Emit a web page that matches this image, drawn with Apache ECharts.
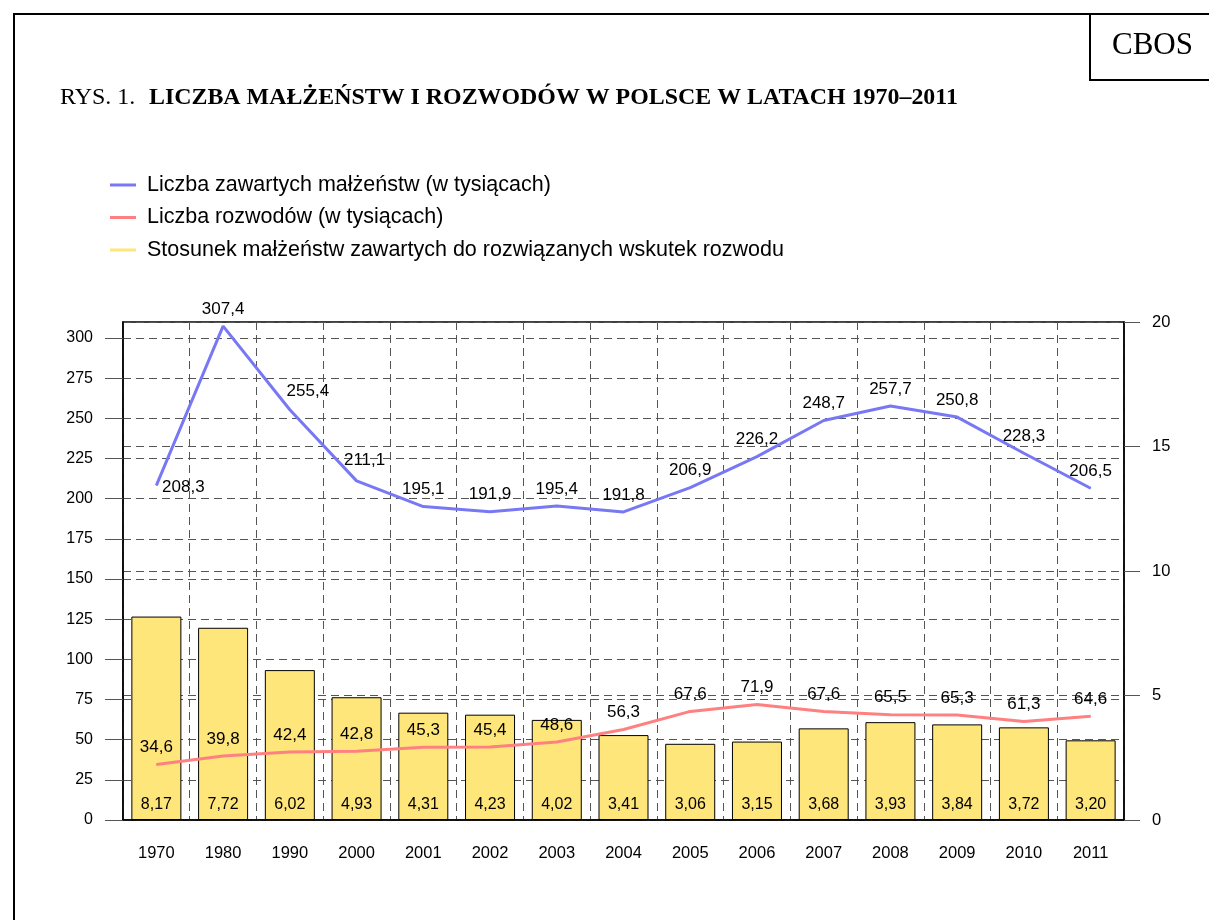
<!DOCTYPE html>
<html>
<head>
<meta charset="utf-8">
<script src="https://cdn.jsdelivr.net/npm/echarts@6/dist/echarts.min.js"></script>
<style>html,body{margin:0;padding:0;background:#fff}#c{width:1209px;height:920px}</style>
</head>
<body>
<div id="c"></div>
<script>
const years = ['1970','1980','1990','2000','2001','2002','2003','2004','2005','2006','2007','2008','2009','2010','2011'];
const marriages = [208.3, 307.4, 255.4, 211.1, 195.1, 191.9, 195.4, 191.8, 206.9, 226.2, 248.7, 257.7, 250.8, 228.3, 206.5];
const divorces = [34.6, 39.8, 42.4, 42.8, 45.3, 45.4, 48.6, 56.3, 67.6, 71.9, 67.6, 65.5, 65.3, 61.3, 64.6];
const ratio = [8.17, 7.72, 6.02, 4.93, 4.31, 4.23, 4.02, 3.41, 3.06, 3.15, 3.68, 3.93, 3.84, 3.72, 3.20];
const seriesNames = [
  'Liczba zawartych małżeństw (w tysiącach)',
  'Liczba rozwodów (w tysiącach)',
  'Stosunek małżeństw zawartych do rozwiązanych wskutek rozwodu'
];
const titlePrefix = 'RYS. 1.';
const titleMain = 'LICZBA MAŁŻEŃSTW I ROZWODÓW W POLSCE W LATACH 1970–2011';
const cornerText = 'CBOS';

// label nudges (pixels) for the marriages line (style only)
const marriageLabelNudge = {
  0: [27, 19],
  2: [18, -1],
  3: [8, -4]
};

const fmt1 = v => v.toFixed(1).replace('.', ',');
const fmt2 = v => v.toFixed(2).replace('.', ',');

const chart = echarts.init(document.getElementById('c'));
const gridDash = {show: true, lineStyle: {color: '#555', type: [8, 5], width: 1}};
const font = 'Liberation Sans, Arial, sans-serif';
const serif = 'Liberation Serif, Times New Roman, serif';

chart.setOption({
  animation: false,
  backgroundColor: '#fff',
  textStyle: {fontFamily: font},
  legend: {
    orient: 'vertical', left: 105, top: 169,
    itemWidth: 26, itemHeight: 3, itemGap: 10.5, icon: 'rect',
    textStyle: {fontSize: 21.5, color: '#000', fontFamily: font, padding: [0, 0, 0, 6]},
    data: [
      {name: seriesNames[0]},
      {name: seriesNames[1]},
      {name: seriesNames[2], itemStyle: {borderWidth: 0}}
    ]
  },
  grid: {left: 123, right: 85, top: 322, bottom: 100, show: true, borderColor: '#000', borderWidth: 1.5, backgroundColor: 'transparent'},
  xAxis: {
    type: 'category', data: years,
    axisLine: {lineStyle: {color: '#000', width: 1.5}},
    axisTick: {alignWithLabel: true, length: 12, lineStyle: {color: '#000'}},
    axisLabel: {color: '#000', fontSize: 16.5, margin: 25, interval: 0},
    splitLine: Object.assign({interval: 0}, gridDash)
  },
  yAxis: [
    {
      type: 'value', min: 0, max: 310, interval: 25, position: 'left',
      axisLine: {show: true, lineStyle: {color: '#000', width: 1.5}},
      axisTick: {show: true, length: 18, lineStyle: {color: '#555'}},
      axisLabel: {color: '#000', fontSize: 16, margin: 30, showMaxLabel: false,
        formatter: v => (v % 25 === 0 ? String(v) : '')},
      splitLine: gridDash
    },
    {
      type: 'value', min: 0, max: 20, interval: 5, position: 'right',
      axisLine: {show: true, lineStyle: {color: '#000', width: 1.5}},
      axisTick: {show: true, length: 16, lineStyle: {color: '#555'}},
      axisLabel: {color: '#000', fontSize: 16.5, margin: 28},
      splitLine: gridDash
    }
  ],
  series: [
    {
      name: seriesNames[2], type: 'bar', yAxisIndex: 1, z: 2,
      data: ratio, barWidth: 50,
      itemStyle: {color: '#FFE67A', borderColor: '#000', borderWidth: 1},
      label: {show: true, position: 'insideBottom', distance: 7, color: '#000', fontSize: 16,
        formatter: p => fmt2(p.value)}
    },
    {
      name: seriesNames[0], type: 'line', yAxisIndex: 0, z: 4,
      data: marriages,
      symbol: 'circle', symbolSize: 1, showSymbol: true,
      lineStyle: {color: '#7878F5', width: 3}, itemStyle: {color: '#7878F5'},
      label: {show: true, position: 'top', distance: 8, color: '#000', fontSize: 17,
        formatter: p => fmt1(p.value)},
      labelLayout: function (params) {
        const n = marriageLabelNudge[params.dataIndex] || [0, 0];
        return {dx: n[0], dy: n[1], hideOverlap: false};
      }
    },
    {
      name: seriesNames[1], type: 'line', yAxisIndex: 0, z: 4,
      data: divorces,
      symbol: 'circle', symbolSize: 1, showSymbol: true,
      lineStyle: {color: '#FF8080', width: 3}, itemStyle: {color: '#FF8080'},
      label: {show: true, position: 'top', distance: 8, color: '#000', fontSize: 17,
        formatter: p => fmt1(p.value)},
      labelLayout: {hideOverlap: false}
    }
  ],
  graphic: [
    {type: 'line', shape: {x1: 14, y1: 14, x2: 1209, y2: 14}, style: {stroke: '#000', lineWidth: 2}},
    {type: 'line', shape: {x1: 14, y1: 13, x2: 14, y2: 920}, style: {stroke: '#000', lineWidth: 2}},
    {type: 'line', shape: {x1: 1090, y1: 13, x2: 1090, y2: 81}, style: {stroke: '#000', lineWidth: 2}},
    {type: 'line', shape: {x1: 1089, y1: 80, x2: 1209, y2: 80}, style: {stroke: '#000', lineWidth: 2}},
    {type: 'text', x: 1112, y: 46, style: {text: cornerText, fontSize: 31, fontFamily: serif, fill: '#000', verticalAlign: 'middle'}},
    {type: 'text', x: 60, y: 98, style: {text: titlePrefix, fontSize: 24, fontFamily: serif, fill: '#000', verticalAlign: 'middle'}},
    {type: 'text', x: 149, y: 98, style: {text: titleMain, fontSize: 23.9, fontWeight: 'bold', fontFamily: serif, fill: '#000', verticalAlign: 'middle'}}
  ]
});
</script>
</body>
</html>
